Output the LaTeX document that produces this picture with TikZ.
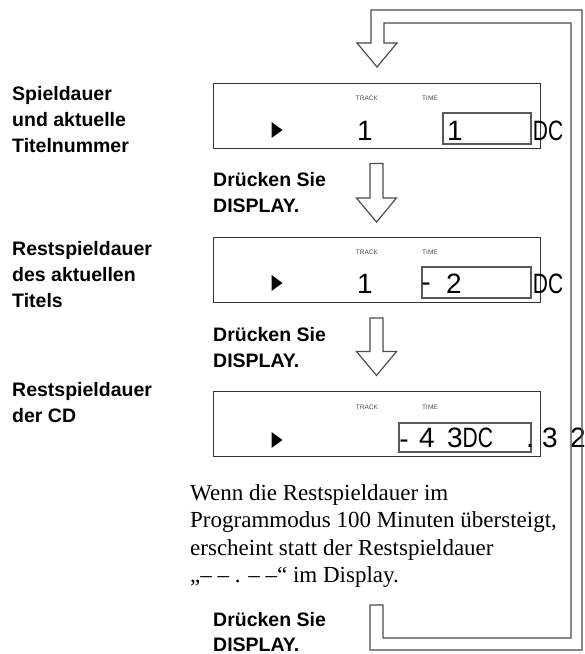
\documentclass[tikz,border=0pt]{standalone}
\usepackage{fontspec}
\setmainfont{Liberation Serif}
\setsansfont{Liberation Sans}
\usetikzlibrary{positioning,calc}
\tikzset {
    lcd/.style={
        draw=black!80,
        line width=1pt,
        rectangle, % the display window
        minimum width=327pt,
        minimum height=65pt,
        inner sep=0pt,
    },
    timebox/.style={
        draw=black!65,
        line width=1.3pt,
        rectangle,
        inner sep=0pt,
    },
    sidetext/.style={
        font=\sffamily\bfseries\fontsize{19.5}{26}\selectfont,
        align=left,
        anchor=north west,
        inner sep=0pt,
    },
    tiny/.style={
        font=\sffamily\fontsize{6.5}{8}\selectfont,
        text=black!70,
        inner sep=0pt,
    },
    digit/.style={
        font=\sffamily\fontsize{28}{30}\selectfont,
        anchor=base,
        inner sep=0pt,
    },
    hollow/.style={
        draw=black!70,
        line width=1.2pt,
        to path={
            let \p1=(\tikztostart), \p2=(\tikztotarget) in
            (\x1-6.5pt,\y1) -- (\x1-6.5pt,\y2+24pt) -- (\x1-20pt,\y2+24pt) -- (\x2,\y2)
            -- (\x1+20pt,\y2+24pt) -- (\x1+6.5pt,\y2+24pt) -- (\x1+6.5pt,\y1) -- cycle
        },
    },
    play/.pic={
        \fill (-5.5,-8) -- (5.5,0) -- (-5.5,8) -- cycle;
    },
}
\newcommand{\dc}{\scalebox{0.75}[1]{DC}}

\begin{document}
\begin{tikzpicture}[x=1pt, y=-1pt]
    \useasboundingbox (0,0) rectangle (585,654);

    % displays
    \node[lcd] (d1) at (376.5,115.5) {};
    \node[lcd] (d2) at (376.5,270) {};
    \node[lcd] (d3) at (376.5,423.5) {};

    % side texts
    \node[sidetext] (s1) at (12,86) {Spieldauer\\und aktuelle\\Titelnummer};
    \node[sidetext] (s2) at (12,241) {Restspieldauer\\des aktuellen\\Titels};
    \node[sidetext] (s3) at (12,382) {Restspieldauer\\der CD};

    \node[sidetext] (p1) at (213,172) {Drücken Sie\\DISPLAY.};
    \node[sidetext] (p2) at (213,327) {Drücken Sie\\DISPLAY.};
    \node[sidetext, font=\sffamily\bfseries\fontsize{19.5}{25}\selectfont] (p3) at (213,612) {Drücken Sie\\DISPLAY.};

    \node[font=\fontsize{23}{27.6}\selectfont, align=left, anchor=north west, inner sep=0pt] (note) at (190,484)
        {Wenn die Restspieldauer im\\Programmodus 100 Minuten übersteigt,\\erscheint statt der Restspieldauer\\„– – . – –“ im Display.};

    % display 1
    \node[tiny] (tr1) at (367,98) {TRACK};
    \node[tiny] (ti1) at (430,98) {TIME};
    \pic at (277,130) {play};
    \node[digit] (n1) at (365,140) {1};
    \node[timebox, minimum width=88pt, minimum height=31pt] (tb1) at (487,128.5) {};
    \node[digit] (m1) at (455,140) {1};
    \node[digit] (c1) at (548,140) {\dc};

    % display 2
    \node[tiny] (tr2) at (367,252) {TRACK};
    \node[tiny] (ti2) at (430,252) {TIME};
    \pic at (277,283) {play};
    \node[digit] (n2) at (365,293) {1};
    \node[timebox, minimum width=109pt, minimum height=31pt] (tb2) at (476.5,282.5) {};
    \node[digit] (h2) at (426,291.5) {-};
    \node[digit] (m2) at (454,293) {2};
    \node[digit] (c2) at (548,293) {\dc};

    % display 3
    \node[tiny] (tr3) at (367,407) {TRACK};
    \node[tiny] (ti3) at (430,407) {TIME};
    \pic at (277,440) {play};
    \node[timebox, minimum width=132pt, minimum height=29pt] (tb3) at (465,437.5) {};
    \node[digit] (h3) at (404,448.5) {-};
    \node[digit] (m3) at (427,447) {4};
    \node[digit] (c3) at (470,447) {3\dc};
    \node[digit] (pt3) at (530,447) {.};
    \node[digit] (x3) at (550,447) {3};
    \node[digit] (y3) at (578,447) {2};

    % arrows
    \draw[hollow] ($(d1.south)+(0,15)$) to ($(d2.north)+(0,-15)$);
    \draw[hollow] ($(d2.south)+(0,15)$) to ($(d3.north)+(0,-15)$);

    % return loop
    \draw[draw=black!70, line width=1.2pt] (370,605) -- (370,650) -- (582,650) -- (582,10) -- (371,10)
        -- (371,43) -- (357,43) -- (377,67) -- (397,43) -- (384,43) -- (384,23) -- (571,23)
        -- (571,638) -- (383,638) -- (383,605) -- cycle;
\end{tikzpicture}
\end{document}
